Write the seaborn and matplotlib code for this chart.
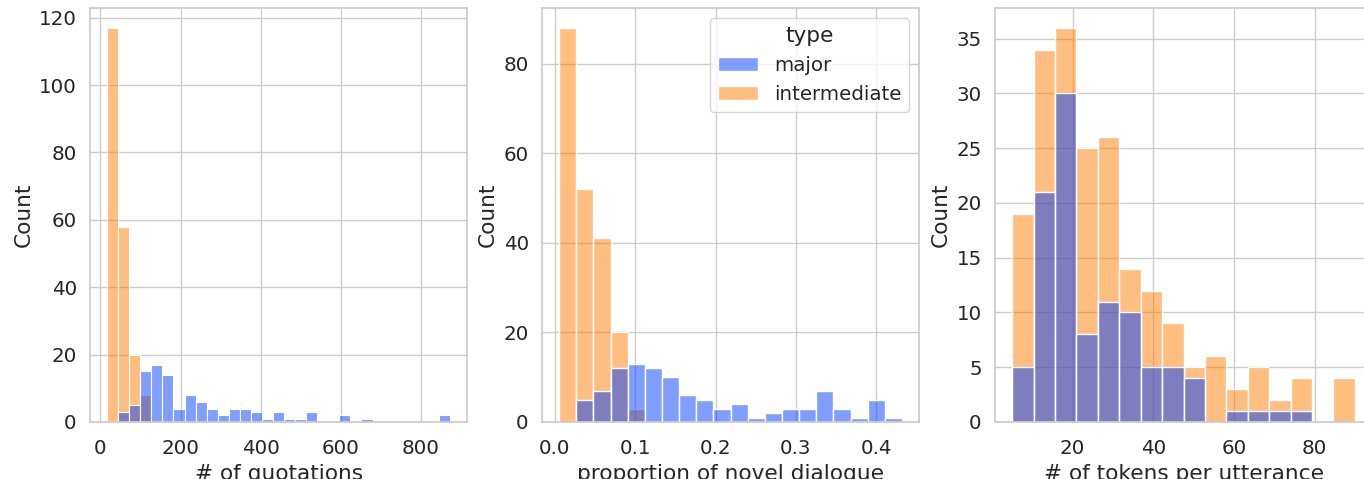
import numpy as np
import pandas as pd
import matplotlib
matplotlib.use("Agg")
import matplotlib.pyplot as plt
import seaborn as sns

# bin counts (shared bins per panel)
types = ["major", "intermediate"]

quot_range = (16.7, 873.0)
quot_major = [0, 3, 5, 15, 17, 14, 4, 8, 6, 4, 2, 4, 4, 3, 1, 3, 1, 1, 3, 0,
              0, 2, 0, 1, 0, 0, 0, 0, 0, 0, 2]
quot_inter = [117, 58, 20, 8, 0, 0, 0, 0, 0, 0, 0, 0, 0, 0, 0, 0, 0, 0, 0, 0,
              0, 0, 0, 0, 0, 0, 0, 0, 0, 0, 0]

nov_range = (0.0054, 0.432)
nov_major = [0, 5, 7, 12, 13, 12, 10, 6, 5, 3, 4, 1, 2, 3, 3, 7, 3, 1, 5, 1]
nov_inter = [88, 52, 41, 20, 3, 0, 0, 0, 0, 0, 0, 0, 0, 0, 0, 0, 0, 0, 0, 0]

tok_range = (5.0, 90.0)
tok_major = [5, 21, 30, 8, 11, 10, 5, 5, 4, 0, 1, 1, 1, 1, 0, 0]
tok_inter = [19, 34, 36, 25, 26, 14, 12, 9, 5, 6, 3, 5, 2, 4, 0, 4]

xlabels = ["# of quotations", "proportion of novel dialogue", "# of tokens per utterance"]


def make_df(rng, major, inter):
    edges = np.linspace(rng[0], rng[1], len(major) + 1)
    centers = (edges[:-1] + edges[1:]) / 2
    df = pd.DataFrame({
        "value": np.concatenate([centers, centers]),
        "count": list(major) + list(inter),
        "type": [types[0]] * len(major) + [types[1]] * len(inter),
    })
    return df


sns.set_theme(style="whitegrid", font_scale=1.3)

fig, axs = plt.subplots(1, 3, figsize=(13.64, 4.79), dpi=100)
lefts = [0.066, 0.3974, 0.7295]
for ax, l in zip(axs, lefts):
    ax.set_position([l, 0.119, 0.2764, 0.8643])

panels = [(quot_range, quot_major, quot_inter),
          (nov_range, nov_major, nov_inter),
          (tok_range, tok_major, tok_inter)]

for i, (ax, (rng, maj, inter)) in enumerate(zip(axs, panels)):
    df = make_df(rng, maj, inter)
    sns.histplot(data=df, x="value", weights="count", hue="type",
                 hue_order=types, bins=len(maj), binrange=rng,
                 palette="bright", ax=ax, legend=(i == 1))
    ax.set_xlabel(xlabels[i])
    ax.set_ylabel("Count")
    ax.tick_params(axis="x", pad=6.5)  # tick labels sit a bit lower in the original

sns.move_legend(axs[1], "upper right")

fig.savefig("out.png", dpi=100)
